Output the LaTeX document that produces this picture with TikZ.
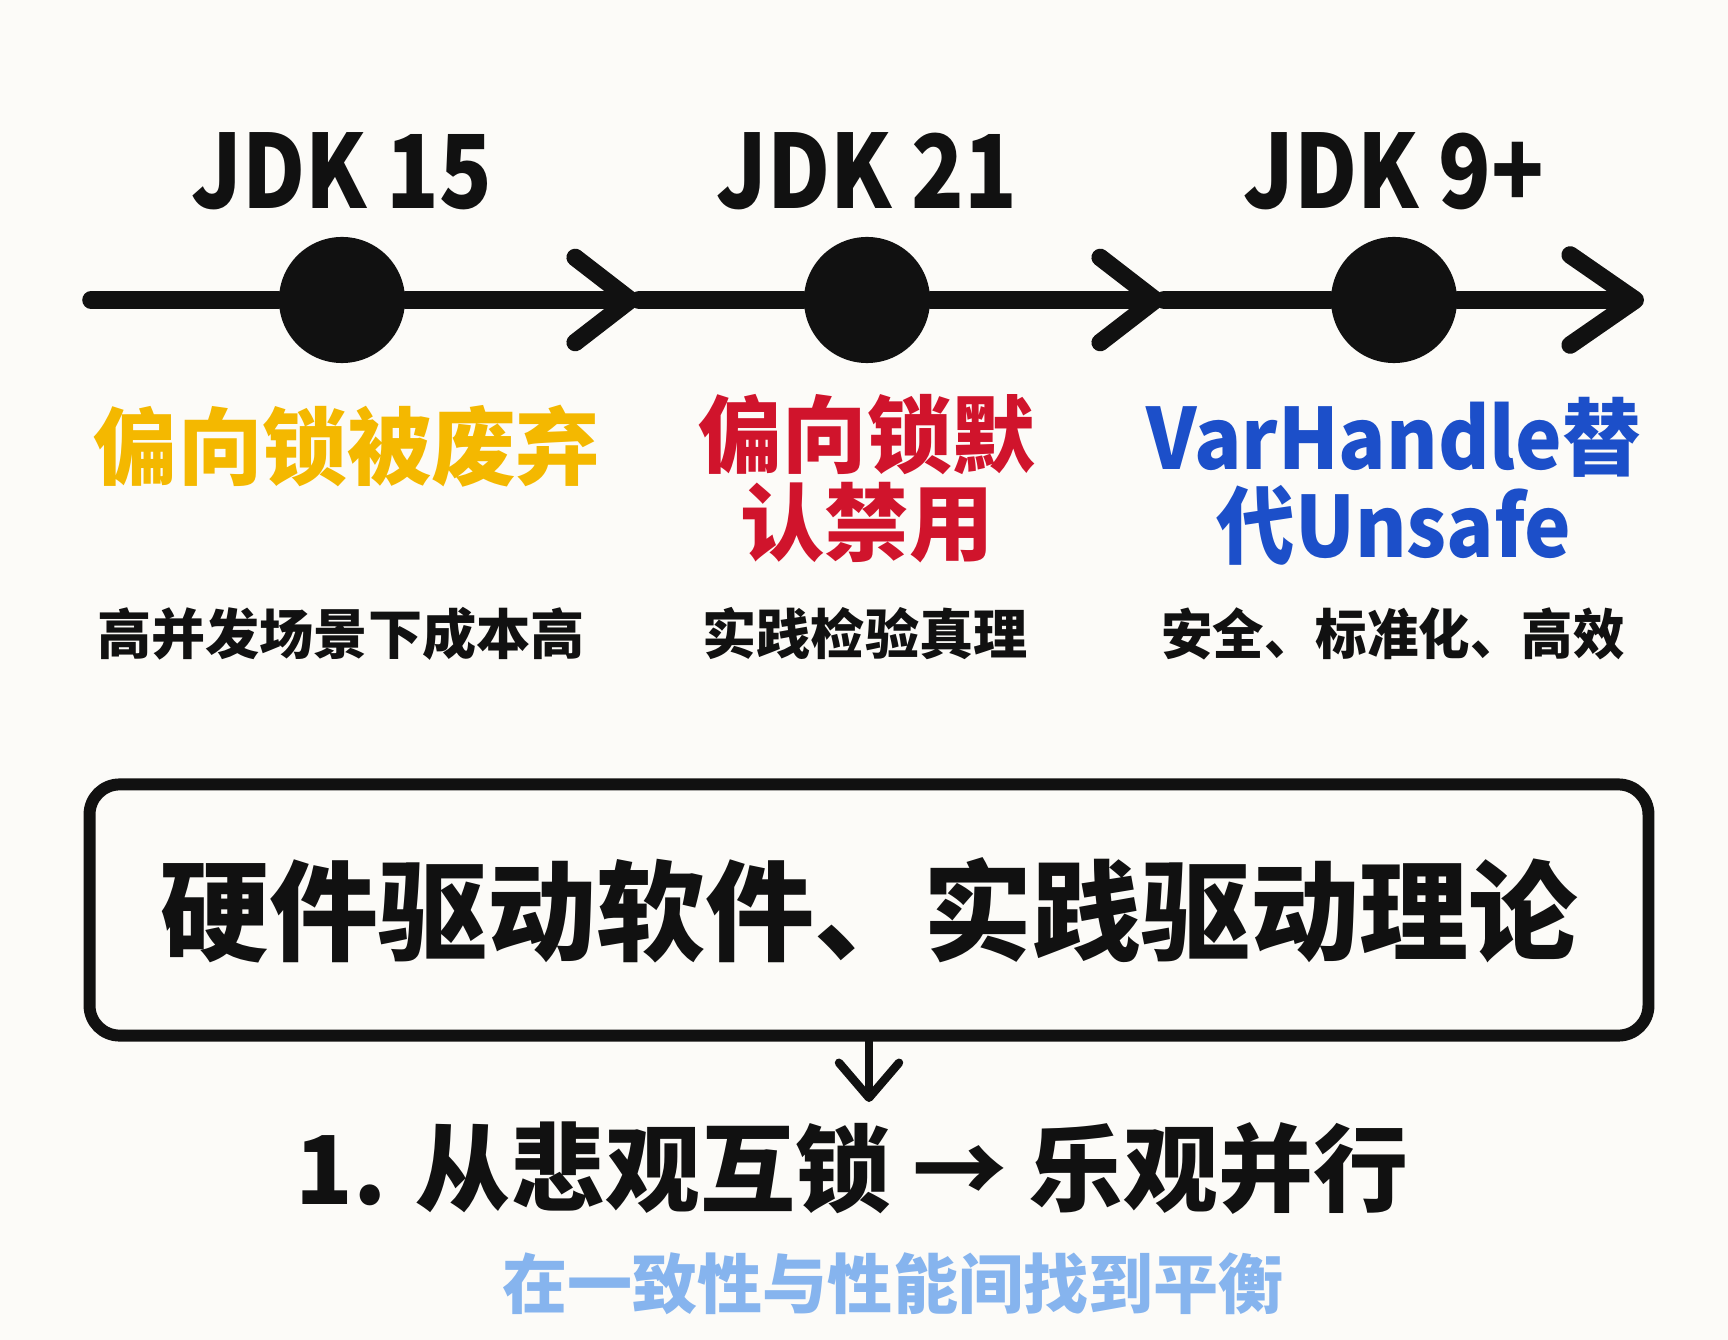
\documentclass[tikz,border=0pt]{standalone}
\usepackage{fontspec}
\setmainfont{Noto Sans CJK SC}
\usepackage{tikz}
\usetikzlibrary{positioning,arrows.meta}
\definecolor{paper}{HTML}{FCFBF8}
\definecolor{ink}{HTML}{111111}
\definecolor{amber}{HTML}{F4B800}
\definecolor{crimson}{HTML}{D0142C}
\definecolor{royal}{HTML}{1C4FC9}
\definecolor{sky}{HTML}{86B4EE}
\newcommand{\squeeze}[1]{\scalebox{0.85}[1]{#1}}
\tikzset{
  milestone/.style={circle, fill=ink, minimum size=1.26cm, inner sep=0pt},
  version/.style={font=\fontsize{29}{30}\selectfont\bfseries, text=ink, inner sep=0pt},
  headline/.style={font=\fontsize{24}{25}\selectfont\bfseries, align=center, inner sep=0pt},
  note/.style={font=\fontsize{15.4}{17}\selectfont\bfseries, text=ink, inner sep=0pt},
  summary/.style={rectangle, rounded corners=3mm, draw=ink, line width=3.4pt,
                  minimum width=15.58cm, minimum height=2.51cm,
                  font=\fontsize{31}{32}\selectfont\bfseries, text=ink},
  lesson/.style={font=\fontsize{27}{28}\selectfont\bfseries, text=ink, inner sep=0pt},
  balance/.style={font=\fontsize{18.5}{20}\selectfont\bfseries, text=sky, inner sep=0pt},
  timeline/.style={line width=5pt, draw=ink, line cap=round},
  tick/.style={timeline, -{Straight Barb[round,length=5.5mm,width=8.5mm]}},
  flow/.style={line width=2.4pt, draw=ink, line cap=round,
               -{Straight Barb[round,length=3.5mm,width=6mm]}}
}

\begin{document}
\begin{tikzpicture}[x=0.01cm,y=-0.01cm]
  \fill[paper] (0,0) rectangle (1728,1340);
  \useasboundingbox (0,0) rectangle (1728,1340);

  % timeline
  \coordinate (start) at (91,300);
  \coordinate (markA) at (639,300);
  \coordinate (markB) at (1164,300);
  \coordinate (finish) at (1644,300);
  \node[milestone] (dotA) at (342,300) {};
  \node[milestone] (dotB) at (867,300) {};
  \node[milestone] (dotC) at (1394,300) {};
  \draw[timeline] (start) -- (dotA);
  \draw[tick] (dotA) -- (markA);
  \draw[timeline] (markA) -- (dotB);
  \draw[tick] (dotB) -- (markB);
  \draw[timeline] (markB) -- (dotC);
  \draw[timeline, -{Straight Barb[round,length=6.5mm,width=9mm]}] (dotC) -- (finish);

  \node[version] (jdkA) at (342,171) {\squeeze{JDK 15}};
  \node[version] (jdkB) at (867,171) {\squeeze{JDK 21}};
  \node[version] (jdkC) at (1394,171) {\squeeze{JDK 9+}};

  \node[headline, text=amber] (deprecate) at (347,446) {偏向锁被废弃};
  \node[headline, text=crimson] (disable) at (867,479) {偏向锁默\\认禁用};
  \node[headline, text=royal] (replace) at (1394,481) {\scalebox{0.93}[1]{VarHandle替}\\\scalebox{0.93}[1]{代Unsafe}};

  \node[note] (costA) at (341,634) {高并发场景下成本高};
  \node[note] (costB) at (865,634) {实践检验真理};
  \node[note] (costC) at (1393,634) {\scalebox{0.95}[1]{安全、标准化、高效}};

  % conclusion
  \node[summary] (motto) at (869,910) {硬件驱动软件、实践驱动理论};
  \coordinate (drop) at (869,1102);
  \draw[flow] (motto.south) -- (drop);
  \node[lesson] (shift) at (852,1168) {1. 从悲观互锁 → 乐观并行};
  \node[balance] (trade) at (893,1284) {在一致性与性能间找到平衡};
\end{tikzpicture}
\end{document}
